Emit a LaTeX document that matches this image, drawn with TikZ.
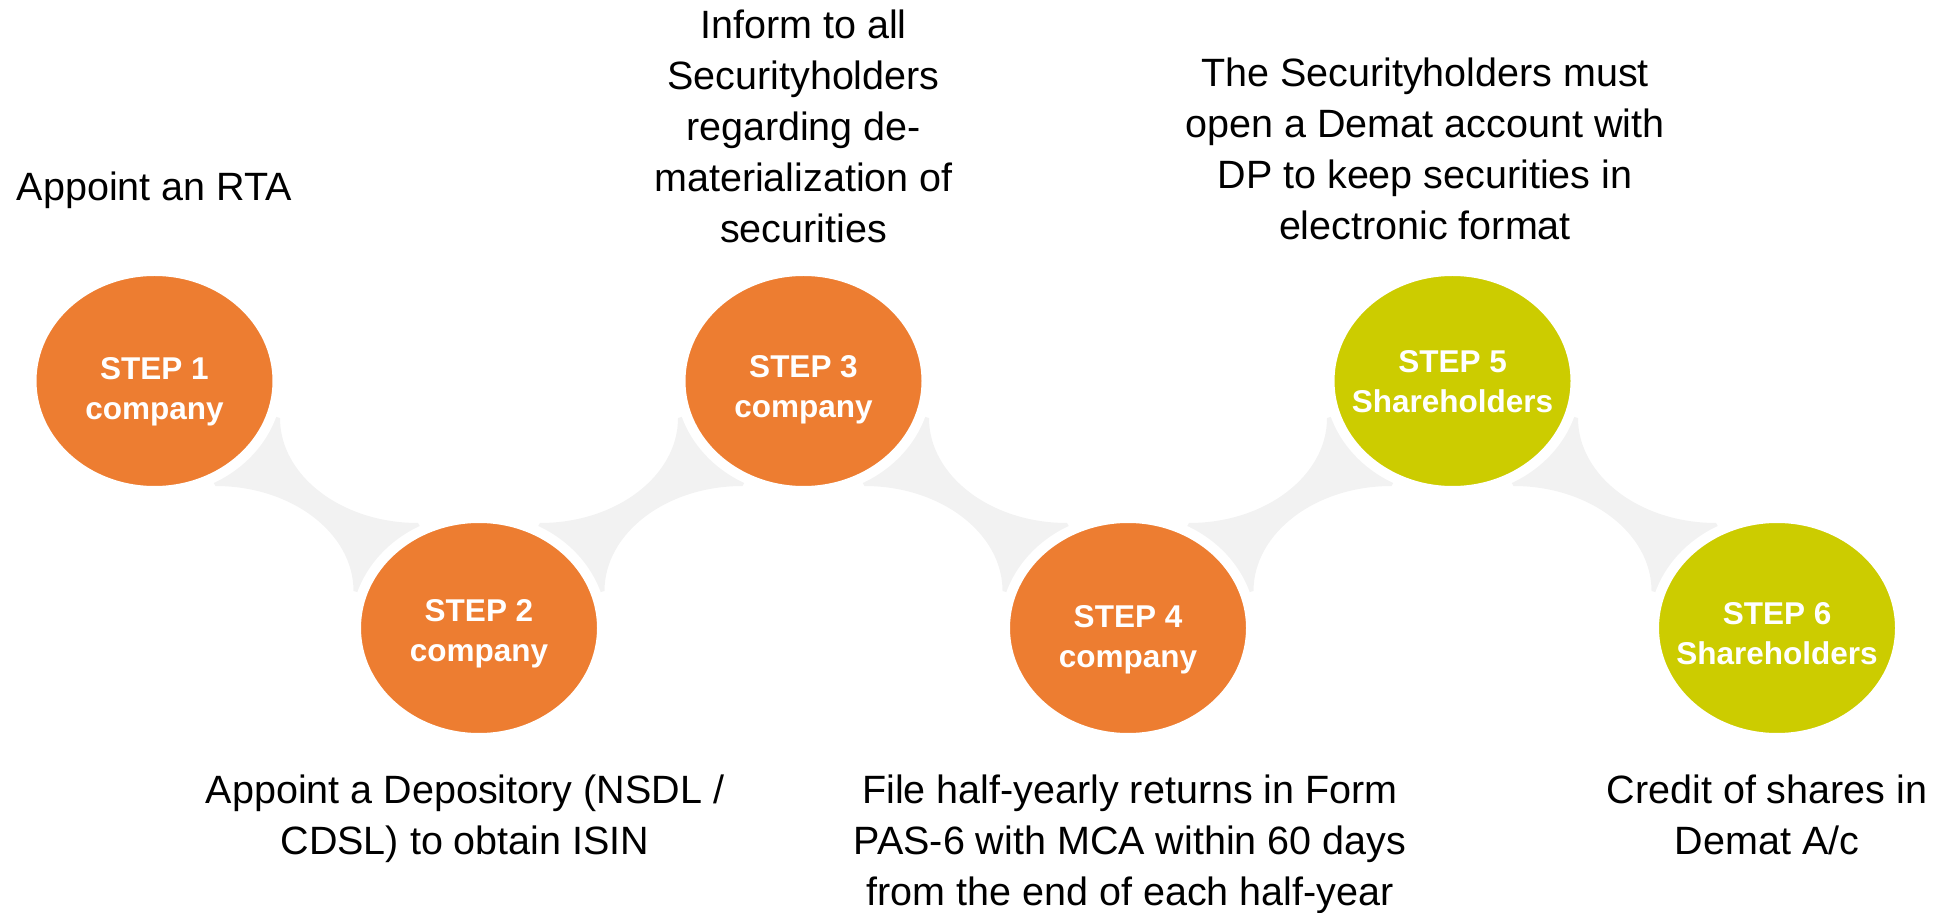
\documentclass[tikz,border=0pt]{standalone}
\usepackage{fontspec}
\setmainfont{Liberation Sans}
\usepackage{xcolor}
\usepackage{tikz}
\usetikzlibrary{positioning,shapes.geometric,calc,backgrounds}

\definecolor{steporange}{RGB}{237,125,49}
\definecolor{steplime}{RGB}{204,204,0}
\definecolor{linkgray}{RGB}{242,242,242}

\begin{document}
\begin{tikzpicture}[
    x=0.5pt, y=-0.5pt,
    font=\fontsize{19.75}{25.5}\selectfont,
    stepcirc/.style={ellipse, draw=white, line width=5pt, minimum width=123pt, minimum height=110pt, inner sep=0pt, outer sep=0pt},
    steptext/.style={font=\fontsize{15.75}{20}\selectfont\bfseries, text=white, align=center},
    note/.style={align=center, inner sep=0pt},
    link/.style={fill=linkgray}
]

\useasboundingbox (0,0) rectangle (1952,913);

% 步骤圆
\foreach \i/\x/\y/\col/\who/\dy in {1/154.5/381/steporange/company/-5.5,
                                    2/479/628/steporange/company/-2.75,
                                    3/803.5/381/steporange/company/-4.25,
                                    4/1128/628/steporange/company/-5.75,
                                    5/1452.5/381/steplime/Shareholders/-0.25,
                                    6/1777/628/steplime/Shareholders/-2.75}
    \node[stepcirc, fill=\col, label={[steptext, yshift=\dy pt]center:STEP \i\\\who}] (s\i) at (\x,\y) {};

% 说明文字
\node[note, above=30.85pt of s1] (t1) {Appoint an RTA};
\node[note, below=18pt of s2, xshift=-7pt] (t2) {Appoint a Depository (NSDL /\\CDSL) to obtain ISIN};
\node[note, above=13.75pt of s3] (t3) {Inform to all\\Securityholders\\regarding de-\\materialization of\\securities};
\node[note, below=18pt of s4, xshift=1pt] (t4) {File half-yearly returns in Form\\PAS-6 with MCA within 60 days\\from the end of each half-year};
\node[note, above=15.5pt of s5, xshift=-13.75pt] (t5) {The Securityholders must\\open a Demat account with\\DP to keep securities in\\electronic format};
\node[note, below=18pt of s6, xshift=-5pt] (t6) {Credit of shares in\\Demat A/c};

% 灰色连接带
\begin{scope}[on background layer]
\foreach \a/\b in {1/2,3/4,5/6}
    \fill[link] ($(s\a)+(125.5,37)$) .. controls +(0,58) and +(-76,0) .. ($(s\b)+(-61,-105)$) -- (s\b.center)
        -- ($(s\b)+(-125.5,-37)$) .. controls +(0,-58) and +(76,0) .. ($(s\a)+(61,105)$) -- (s\a.center) -- cycle;
\foreach \a/\b in {2/3,4/5}
    \fill[link] ($(s\b)+(-125.5,37)$) .. controls +(0,58) and +(76,0) .. ($(s\a)+(61,-105)$) -- (s\a.center)
        -- ($(s\a)+(125.5,-37)$) .. controls +(0,-58) and +(-76,0) .. ($(s\b)+(-61,105)$) -- (s\b.center) -- cycle;
\end{scope}

\end{tikzpicture}
\end{document}
